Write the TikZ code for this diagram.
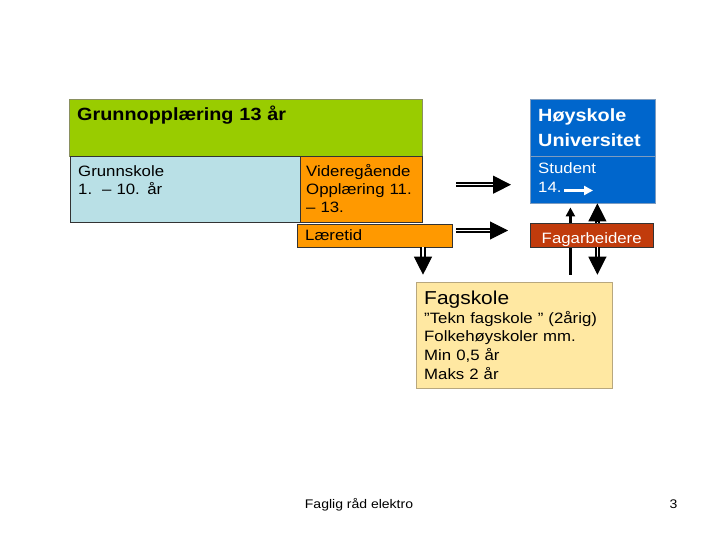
\documentclass[tikz,border=0pt]{standalone}
\usepackage{fontspec}
\setmainfont{Liberation Sans}[FakeStretch=1.12]
\usetikzlibrary{arrows.meta, calc}

\definecolor{grn}{HTML}{99CC00}
\definecolor{grnline}{HTML}{8A9060}
\definecolor{ltblue}{HTML}{B9E0E6}
\definecolor{orng}{HTML}{FF9900}
\definecolor{uniblue}{HTML}{0066CC}
\definecolor{blueline}{HTML}{7D9CC0}
\definecolor{brick}{HTML}{C13B0C}
\definecolor{sand}{HTML}{FFE8A2}
\definecolor{sandline}{HTML}{B8A77E}

% double shaft, then a solid head on a short stub
\newcommand{\dblarr}[2]{%
  \draw[dblshaft] (#1) -- ($(#2)!17pt!(#1)$);
  \draw[dblhead] ($(#2)!18pt!(#1)$) -- (#2);}

\begin{document}
\begin{tikzpicture}[x=1pt, y=-1pt,
    blk/.style={draw=black!80, anchor=north west, align=left, inner xsep=8pt,
        inner ysep=0pt, font=\fontsize{15}{18}\selectfont},
    dblshaft/.style={double, double distance=1.5pt, line width=2pt},
    dblhead/.style={-{Triangle[length=18pt, width=18pt]}, line width=1pt},
    thinarr/.style={-{Triangle[length=9pt, width=9pt]}, line width=2.5pt},
    whitearr/.style={white, -{Triangle[length=9pt, width=9pt]}, line width=2.3pt},
    foot/.style={anchor=base, font=\fontsize{12.5}{15}\selectfont},
]
    \useasboundingbox[fill=white] (0,0) rectangle (720,540);

    % Grunnopplaering
    \node[blk, draw=grnline, fill=grn, text width=337pt, text height=21pt,
        text depth=35.7pt, font=\bfseries\fontsize{17.7}{21}\selectfont]
        (grunn) at (69,99) {Grunnopplæring 13 år};
    \node[blk, fill=ltblue, text width=214pt, text height=20.3pt,
        text depth=46.3pt] (gskole) at (70,155.7)
        {Grunnskole\\1.\hspace{10pt}– 10. år};
    \node[blk, fill=orng, inner xsep=6pt, text width=110pt, text height=20.3pt,
        text depth=46.3pt] (vgo) at (300,155.7)
        {Videregående\\Opplæring 11.\\– 13.};
    \node[blk, fill=orng, text width=139pt, text height=16pt,
        text depth=7pt] (laer) at (297,224) {Læretid};

    % Hoyskole
    \node[blk, draw=blueline, fill=uniblue, text=white, text width=109pt,
        text height=22.7pt, text depth=34.3pt,
        font=\bfseries\fontsize{17.7}{24.7}\selectfont]
        (hoy) at (530,99) {Høyskole\\Universitet};
    \node[blk, draw=blueline, fill=uniblue, text=white, text width=109pt,
        text height=17pt, text depth=30pt, font=\fontsize{15}{19.5}\selectfont]
        (stud) at (530,156) {Student\\14.};
    \coordinate (sa) at ([xshift=34pt, yshift=-34.5pt]stud.north west);
    \draw[whitearr] (sa) -- ++(29,0);

    % Fagskole
    \node[blk, draw=sandline, fill=sand, text width=180pt, text height=22.3pt,
        text depth=84.3pt, font=\fontsize{15}{18.8}\selectfont]
        (fag) at (416,281.7)
        {{\fontsize{18.7}{21}\selectfont Fagskole}\\
         ”Tekn fagskole ” (2årig)\\Folkehøyskoler mm.\\Min 0,5 år\\Maks 2 år};

    % thin arrow runs behind Fagarbeidere
    \coordinate (fx) at ([xshift=-42pt]fag.north east);
    \draw[thinarr, shorten >=4pt] ([yshift=7pt]fx) -- (stud.south -| fx);

    \node[blk, fill=brick, text=white, align=center, inner xsep=0pt,
        text width=123pt, text height=20.3pt, text depth=3.7pt]
        (fagarb) at (530,223) {Fagarbeidere};

    % connectors
    \coordinate (h1s) at (456,184.7);
    \coordinate (h1e) at (511,184.7);
    \coordinate (h2s) at (456,230.5);
    \coordinate (h2e) at (508,230.5);
    \dblarr{h1s}{h1e}
    \dblarr{h2s}{h2e}

    \coordinate (lx) at ([xshift=7pt]fag.north west);
    \coordinate (d1s) at (laer.south -| lx);
    \coordinate (d1e) at ([yshift=7pt]lx);
    \dblarr{d1s}{d1e}

    \coordinate (rx) at ([xshift=-15pt]fag.north east);
    \coordinate (d2s) at (fagarb.south -| rx);
    \coordinate (d2e) at ([yshift=7pt]rx);
    \dblarr{d2s}{d2e}
    \coordinate (u1s) at (fagarb.north -| rx);
    \coordinate (u1e) at (stud.south -| rx);
    \dblarr{u1s}{u1e}

    % footer
    \node[foot] (src) at (359,508) {Faglig råd elektro};
    \node[foot] (pg) at (673.5,508) {3};
\end{tikzpicture}
\end{document}
